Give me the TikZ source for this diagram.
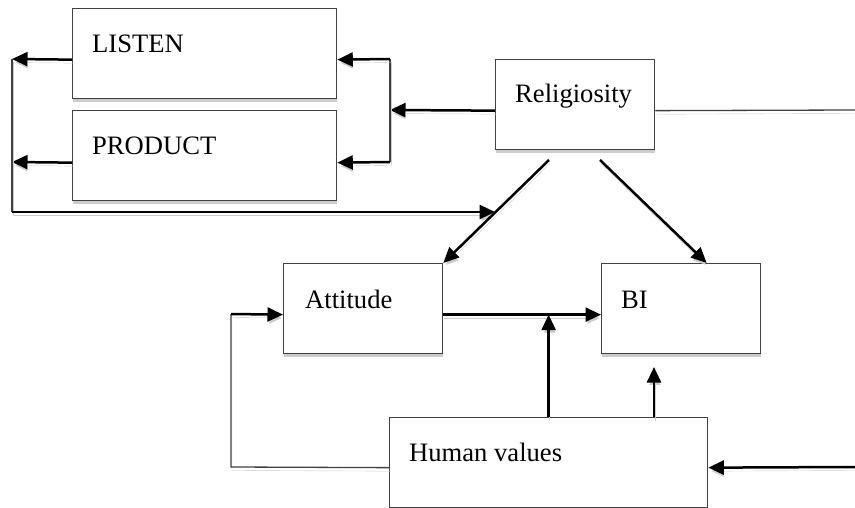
\documentclass[tikz,border=0pt]{standalone}
\usepackage{fontspec}
\setmainfont{Liberation Serif}
\usetikzlibrary{arrows.meta,calc,shadows}

\definecolor{edgegray}{HTML}{404040}
\definecolor{shadegray}{HTML}{CCCCCC}

\tikzset{
  panel/.style={draw=edgegray, line width=1.3pt, fill=white, anchor=north west,
    inner sep=0pt, minimum width=#1,
    drop shadow={shadow xshift=0.6pt, shadow yshift=-3.5pt, fill=shadegray, opacity=1}},
  caption/.style={anchor=base west, inner sep=0pt,
    font=\fontsize{26.6}{30}\selectfont},
  shade line/.style={preaction={draw=shadegray, transform canvas={shift={(1pt,-3.5pt)}}}},
  flow/.style={draw=black, line width=2.5pt, shade line,
    -{Triangle[length=15.5pt,width=14pt]}},
  rim/.style={draw=edgegray, line width=1.3pt, shade line},
}

\begin{document}
\begin{tikzpicture}[x=1pt,y=-1pt]
\useasboundingbox (0,0) rectangle (855,508);

% boxes
\node[panel=264pt, minimum height=90pt] (listen)  at (72,8)   {};
\node[panel=264pt, minimum height=90pt] (product) at (72,110) {};
\node[panel=159pt, minimum height=90pt] (relig)   at (495,59) {};
\node[panel=159pt, minimum height=90pt] (att)     at (283,263) {};
\node[panel=159pt, minimum height=90pt] (bi)      at (601,263) {};
\node[panel=318pt, minimum height=90pt] (human)   at (389,417) {};

% captions
\node[caption] (tlisten)  at (92,53)   {LISTEN};
\node[caption] (tproduct) at (92,155)  {PRODUCT};
\node[caption] (trelig)   at (515,103) {Religiosity};
\node[caption] (tatt)     at (305,308) {Attitude};
\node[caption] (tbi)      at (621,308) {BI};
\node[caption] (thuman)   at (409,461) {Human values};

% helper points
\coordinate (loutL) at (12,59);
\coordinate (loutP) at (12,162);
\coordinate (lcorner) at (12,212);
\coordinate (jtop) at (390,59);
\coordinate (jmid) at (390,110);
\coordinate (jbot) at (390,162);
\coordinate (rsA) at (549,160);
\coordinate (rsB) at (600,160);
\coordinate (rend) at (855,110);
\coordinate (hend) at (855,467);
\coordinate (hcornerB) at (231,467);
\coordinate (hcornerT) at (231,314);
\coordinate (hbi) at (654,417);
\coordinate (hbitip) at (654,367);

% left side: outputs of LISTEN and PRODUCT
\draw[flow] ([yshift=-6pt]listen.west) -- (loutL);
\draw[flow] ([yshift=-7pt]product.west) -- (loutP);
\draw[rim] (loutL) -- (lcorner);
\coordinate (cross) at ($(rsA)!0.51!(att.north east)$);
\draw[flow] (lcorner) -- (lcorner -| cross);

% Religiosity feeding LISTEN and PRODUCT
\draw[flow] ([yshift=-6pt]relig.west) -- (jmid);
\draw[rim] (jtop) -- (jbot);
\draw[flow] (jtop) -- ([yshift=-6pt]listen.east);
\draw[flow] (jbot) -- ([yshift=-7pt]product.east);
\draw[rim] ([yshift=-6pt]relig.east) -- (rend);

% Religiosity to Attitude and BI
\draw[flow] (rsA) -- (att.north east);
\draw[flow] (rsB) -- ([xshift=25.5pt]bi.north);

% Attitude to BI, moderated by Human values
\coordinate (ae) at ([yshift=-6pt]att.east);
\draw[flow] (ae) -- ([yshift=-6pt]bi.west);
\draw[flow] (human.north) -- (human.north |- ae);
\draw[flow] (hbi) -- (hbitip);

% Human values loop back to Attitude
\draw[rim] ([yshift=-5pt]human.west) -- (hcornerB) -- (hcornerT);
\draw[flow] (hcornerT) -- ([yshift=-6pt]att.west);
\draw[flow] (hend) -- ([yshift=-5pt]human.east);
\end{tikzpicture}
\end{document}
